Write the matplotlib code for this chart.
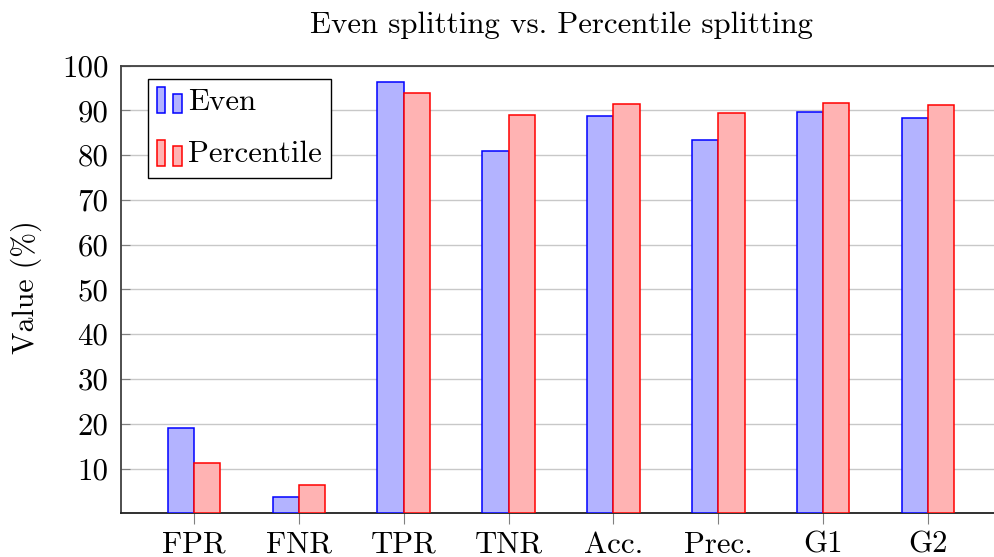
import matplotlib
matplotlib.use("Agg")
import matplotlib.pyplot as plt
from matplotlib.patches import Rectangle
from matplotlib.legend_handler import HandlerBase
import numpy as np

categories = ["FPR", "FNR", "TPR", "TNR", "Acc.", "Prec.", "G1", "G2"]
even = [19.1, 3.6, 96.4, 81.0, 88.7, 83.5, 89.7, 88.4]
percentile = [11.2, 6.3, 93.9, 88.9, 91.4, 89.5, 91.6, 91.3]
yticks = [10, 20, 30, 40, 50, 60, 70, 80, 90, 100]
title = "Even splitting vs. Percentile splitting"
ylabel = "Value (%)"

FS = 22.2
plt.rcParams['font.family'] = ['cmr10', 'DejaVu Serif']
plt.rcParams['axes.formatter.use_mathtext'] = True
plt.rcParams['font.size'] = FS

fig = plt.figure(figsize=(9.95, 5.57), dpi=100)
ax = fig.add_axes([121 / 995, (557 - 513.3) / 557, 880 / 995, 447.6 / 557])

x = np.arange(len(categories))
w = 0.25
ax.bar(x - w / 2, even, w, color='#b3b3ff', edgecolor='#0000ff', linewidth=1.1, zorder=3, label='Even')
ax.bar(x + w / 2, percentile, w, color='#ffb3b3', edgecolor='#ff0000', linewidth=1.1, zorder=3, label='Percentile')

ax.set_xlim(-0.695, 7.695)
ax.set_ylim(0, 100)
ax.set_xticks(x)
ax.set_xticklabels(categories)
ax.set_yticks(yticks)
ax.set_yticklabels([str(v) for v in yticks])
ax.grid(axis='y', color='#c8c8c8', linewidth=1.0, zorder=0)
ax.set_axisbelow(True)

ax.tick_params(axis='x', direction='out', length=8, width=0.8, color='#808080', pad=5, labelsize=FS)
ax.tick_params(axis='y', direction='in', length=6.5, width=0.8, color='#808080', pad=9, labelsize=FS)
for side in ['left', 'top', 'bottom']:
    ax.spines[side].set_color('#404040')
    ax.spines[side].set_linewidth(1.3)
ax.spines['bottom'].set_color('#202020')
ax.spines['right'].set_visible(False)

fig.text(562 / 995, 1 - 33 / 557, title, ha='center', va='baseline', fontsize=FS)
fig.text(26 / 995, 1 - 287 / 557, ylabel, ha='center', va='center', rotation=90, fontsize=FS - 0.7)


class TwoBarHandler(HandlerBase):
    def create_artists(self, legend, orig_handle, xdescent, ydescent, width, height, fontsize, trans):
        fc = orig_handle.get_facecolor()
        ec = orig_handle.get_edgecolor()
        bw = width * 0.34
        h1 = height * 1.2
        h2 = height * 0.9
        y0 = -ydescent - height * 0.15
        r1 = Rectangle((-xdescent, y0), bw, h1, facecolor=fc, edgecolor=ec, linewidth=1.1, transform=trans)
        r2 = Rectangle((-xdescent + width * 0.66, y0), bw, h2, facecolor=fc, edgecolor=ec, linewidth=1.1, transform=trans)
        return [r1, r2]


handles, labels = ax.get_legend_handles_labels()
h_even = handles[0].patches[0]
h_perc = handles[1].patches[0]
leg = ax.legend([h_even, h_perc], labels, loc='upper left',
                bbox_to_anchor=((147.7 - 121) / 880, (513.3 - 79.3) / 447.6),
                borderaxespad=0, handler_map={type(h_even): TwoBarHandler()},
                handlelength=0.8, handletextpad=0.22, labelspacing=0.8,
                borderpad=0.3, fancybox=False, framealpha=1, edgecolor='#000000',
                fontsize=FS)
leg.get_frame().set_linewidth(1.0)

fig.savefig("out.png", dpi=100)
